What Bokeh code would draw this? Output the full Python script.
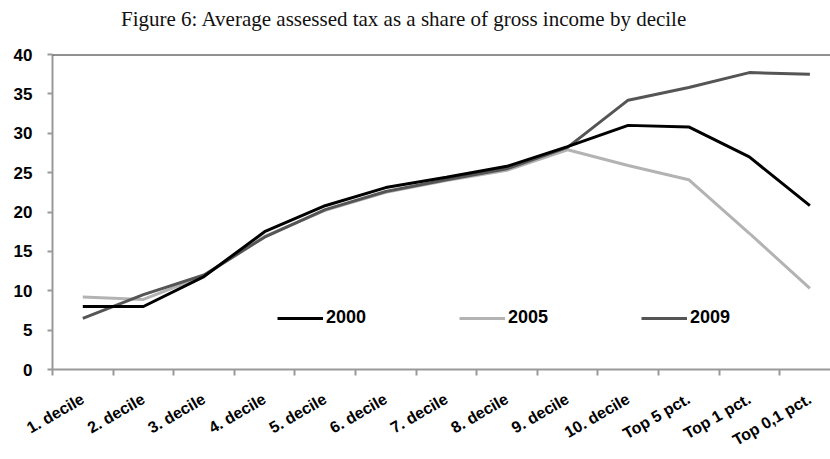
from math import pi

from bokeh.embed import file_html
from bokeh.layouts import column
from bokeh.models import Div, FixedTicker, Legend, LegendItem, Range1d, Span
from bokeh.plotting import figure
from bokeh.resources import INLINE

# Income groups along the x axis
categories = [
    "1. decile", "2. decile", "3. decile", "4. decile", "5. decile",
    "6. decile", "7. decile", "8. decile", "9. decile", "10. decile",
    "Top 5 pct.", "Top 1 pct.", "Top 0,1 pct.",
]

# Average assessed tax, % of gross income
tax_2000 = [8.0, 8.0, 11.8, 17.5, 20.8, 23.1, 24.4, 25.8, 28.3, 31.0, 30.8, 27.0, 20.8]
tax_2005 = [9.2, 8.9, 11.9, 16.9, 20.2, 22.5, 24.0, 25.3, 27.9, 25.9, 24.1, 17.3, 10.3]
tax_2009 = [6.5, 9.5, 12.0, 16.8, 20.3, 22.6, 24.1, 25.5, 28.2, 34.2, 35.8, 37.7, 37.5]

y_ticks = [0, 5, 10, 15, 20, 25, 30, 35, 40]

chart_title = "Figure 6: Average assessed tax as a share of gross income by decile"

x = list(range(1, len(categories) + 1))
bounds = [i + 0.5 for i in range(0, len(categories) + 1)]

# caption line above the chart
caption = Div(
    text=chart_title, width=830, height=44, margin=0,
    styles={
        "font-family": "Liberation Serif", "font-size": "21px",
        "line-height": "24px", "color": "#111111",
        "padding-top": "7px", "padding-left": "121px",
        "box-sizing": "border-box", "white-space": "nowrap",
    },
)

p = figure(
    width=830, height=415,
    output_backend="svg", toolbar_location=None,
    x_range=Range1d(0.5, 13.34), y_range=Range1d(0, 40),
    min_border_left=52, min_border_right=0,
    min_border_top=10, min_border_bottom=90, margin=0,
)
p.background_fill_color = "white"
p.border_fill_color = "white"
p.outline_line_color = None
p.grid.visible = False

axis_color = "#999999"
label_font = "Liberation Sans"

# y axis
ya = p.yaxis[0]
ya.ticker = FixedTicker(ticks=y_ticks)
ya.axis_line_color = axis_color
ya.axis_line_width = 2
ya.major_tick_line_color = axis_color
ya.major_tick_line_width = 2
ya.major_tick_in = 0
ya.major_tick_out = 5
ya.minor_tick_line_color = None
ya.major_label_standoff = 15
ya.major_label_text_font = label_font
ya.major_label_text_font_style = "bold"
ya.major_label_text_font_size = "17px"
ya.major_label_text_color = "#000000"

# x axis: labels at group centres, tick marks on group boundaries
xa = p.xaxis[0]
xa.ticker = FixedTicker(ticks=x, minor_ticks=bounds)
xa.major_label_overrides = {i: c for i, c in zip(x, categories)}
xa.major_label_orientation = pi / 6
xa.axis_line_color = axis_color
xa.axis_line_width = 2
xa.major_tick_line_color = None
xa.major_tick_in = 0
xa.major_tick_out = 0
xa.minor_tick_line_color = axis_color
xa.minor_tick_line_width = 2
xa.minor_tick_in = 0
xa.minor_tick_out = 6
xa.major_label_standoff = 22
xa.major_label_text_font = label_font
xa.major_label_text_font_style = "bold"
xa.major_label_text_font_size = "16px"
xa.major_label_text_color = "#000000"

# dark rule along the top of the value range
p.add_layout(Span(location=40, dimension="width", line_color="#222222", line_width=2))

r05 = p.line(x, tax_2005, line_color="#b3b3b3", line_width=3)
r09 = p.line(x, tax_2009, line_color="#555555", line_width=3)
r00 = p.line(x, tax_2000, line_color="#000000", line_width=3)

legend = Legend(
    items=[
        LegendItem(label="2000", renderers=[r00]),
        LegendItem(label="2005", renderers=[r05]),
        LegendItem(label="2009", renderers=[r09]),
    ],
    orientation="horizontal",
    location=(225, 41),
    glyph_width=46, glyph_height=18,
    label_standoff=3, spacing=0, label_width=133,
    padding=0, margin=0,
    border_line_color=None, background_fill_alpha=0,
    label_text_font=label_font, label_text_font_style="bold",
    label_text_font_size="18px", label_text_color="#000000",
)
p.add_layout(legend, "center")

page = column(caption, p, spacing=0, margin=0)

open("out.html", "w").write(file_html(page, INLINE))
